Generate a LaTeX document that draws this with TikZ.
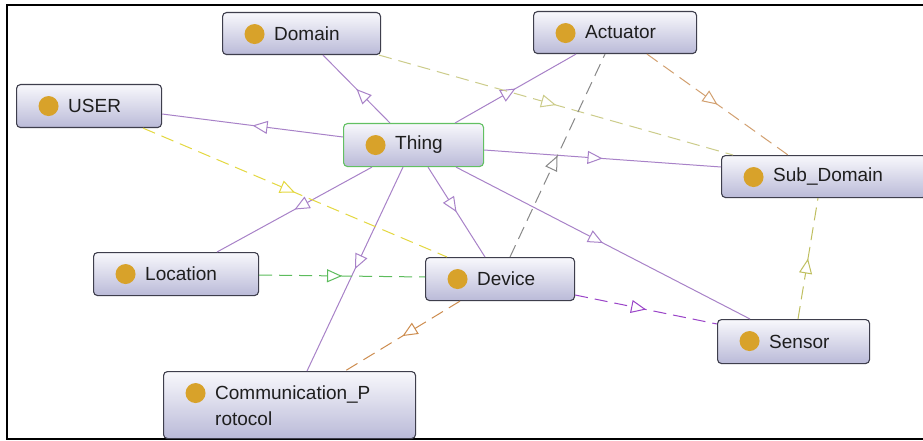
\documentclass[tikz,border=0pt]{standalone}
\usepackage{fontspec}
\setmainfont{Liberation Sans}
\usetikzlibrary{arrows.meta,decorations.markings}

\definecolor{boxline}{HTML}{3E3E4C}
\definecolor{boxtop}{HTML}{F8F8FC}
\definecolor{boxbot}{HTML}{BABAD8}
\definecolor{rootline}{HTML}{62C062}
\definecolor{dotcol}{HTML}{D8A22A}
\definecolor{txt}{HTML}{1E1E1E}
\definecolor{purp}{HTML}{A882C8}
\definecolor{khaki}{HTML}{CCCC8A}
\definecolor{tan}{HTML}{D2A070}
\definecolor{greyd}{HTML}{888888}
\definecolor{yell}{HTML}{E4D840}
\definecolor{grn}{HTML}{5CBC5C}
\definecolor{orng}{HTML}{CD8C4E}
\definecolor{violet}{HTML}{9A44C8}
\definecolor{olive}{HTML}{BFBF60}

\tikzset{
  box/.style={rectangle, rounded corners=4pt, draw=boxline, line width=1.1pt,
    top color=boxtop, bottom color=boxbot, anchor=north west, inner sep=0pt,
    path picture={\fill[dotcol] ([xshift=32pt,yshift=-21.5pt]path picture bounding box.north west) circle[radius=10pt];}},
  lbl/.style={anchor=west, inner sep=0pt, text=txt, align=left,
    font=\fontsize{19}{26}\selectfont},
  rel/.style={line width=1pt, postaction={decorate},
    decoration={markings, mark=at position 0.5 with {\arrow{Triangle[open, length=15pt, width=13pt, fill=white]}}}},
  isa/.style={rel, draw=purp},
  dsh/.style={rel, draw=#1, dash pattern=on 13pt off 7pt},
}

\begin{document}
\begin{tikzpicture}[x=1pt,y=-1pt]
\fill[white] (0,0) rectangle (923,441);
\useasboundingbox (0,0) rectangle (923,441);

% frame
\draw[line width=2.5pt, black] (935,5) -| (7,439) -- (935,439);

% classes
\node[box, minimum width=158pt, minimum height=42pt] (dom) at (222,12) {};
\node[box, minimum width=145pt, minimum height=43pt] (usr) at (16,84) {};
\node[box, draw=rootline, minimum width=140pt, minimum height=43pt] (thg) at (343,123) {};
\node[box, minimum width=163pt, minimum height=42pt] (act) at (533,11) {};
\node[box, minimum width=205pt, minimum height=42pt] (sub) at (721,155) {};
\node[box, minimum width=165pt, minimum height=43pt] (loc) at (93,252) {};
\node[box, minimum width=149pt, minimum height=43pt] (dev) at (425,257) {};
\node[box, minimum width=252pt, minimum height=67pt] (com) at (163,371) {};
\node[box, minimum width=152pt, minimum height=44pt] (sen) at (717,319) {};

\node[lbl] (dom-l) at ([xshift=52pt]dom.west) {Domain};
\node[lbl] (usr-l) at ([xshift=52pt]usr.west) {USER};
\node[lbl] (thg-l) at ([xshift=52pt]thg.west) {Thing};
\node[lbl] (act-l) at ([xshift=52pt]act.west) {Actuator};
\node[lbl] (sub-l) at ([xshift=52pt]sub.west) {Sub\_Domain};
\node[lbl] (loc-l) at ([xshift=52pt]loc.west) {Location};
\node[lbl] (dev-l) at ([xshift=52pt]dev.west) {Device};
\node[lbl] (com-l) at ([xshift=52pt,yshift=-1pt]com.west) {Communication\_P\\rotocol};
\node[lbl] (sen-l) at ([xshift=52pt]sen.west) {Sensor};

% subclass links from Thing
\draw[isa] ([xshift=47pt]thg.north west) -- ([xshift=101pt]dom.south west);
\draw[isa] ([yshift=-14pt]thg.north west) -- ([yshift=-30pt]usr.north east);
\draw[isa] ([xshift=112pt]thg.north west) -- ([xshift=43pt]act.south west);
\draw[isa] ([yshift=-27pt]thg.north east) -- ([yshift=-12pt]sub.north west);
\draw[isa] ([xshift=29pt]thg.south west) -- ([xshift=124pt]loc.north west);
\draw[isa] ([xshift=60pt]thg.south west) -- ([xshift=144pt]com.north west);
\draw[isa] ([xshift=85pt]thg.south west) -- ([xshift=60pt]dev.north west);
\draw[isa] ([xshift=113pt]thg.south west) -- ([xshift=33pt]sen.north west);

% object properties
\draw[dsh=khaki] ([xshift=-2pt]dom.south east) -- ([xshift=12pt]sub.north west);
\draw[dsh=tan] ([xshift=114pt]act.south west) -- ([xshift=67pt]sub.north west);
\draw[dsh=greyd] ([xshift=85pt]dev.north west) -- ([xshift=72pt]act.south west);
\draw[dsh=yell] ([xshift=127pt]usr.south west) -- ([xshift=22pt]dev.north west);
\draw[dsh=grn] ([yshift=-23pt]loc.north east) -- ([yshift=-20pt]dev.north west);
\draw[dsh=orng] ([xshift=35pt]dev.south west) -- ([xshift=182pt]com.north west);
\draw[dsh=violet] ([yshift=-38pt]dev.north east) -- ([yshift=-5pt]sen.north west);
\draw[dsh=olive] ([xshift=81pt]sen.north west) -- ([xshift=97pt]sub.south west);
\end{tikzpicture}
\end{document}
